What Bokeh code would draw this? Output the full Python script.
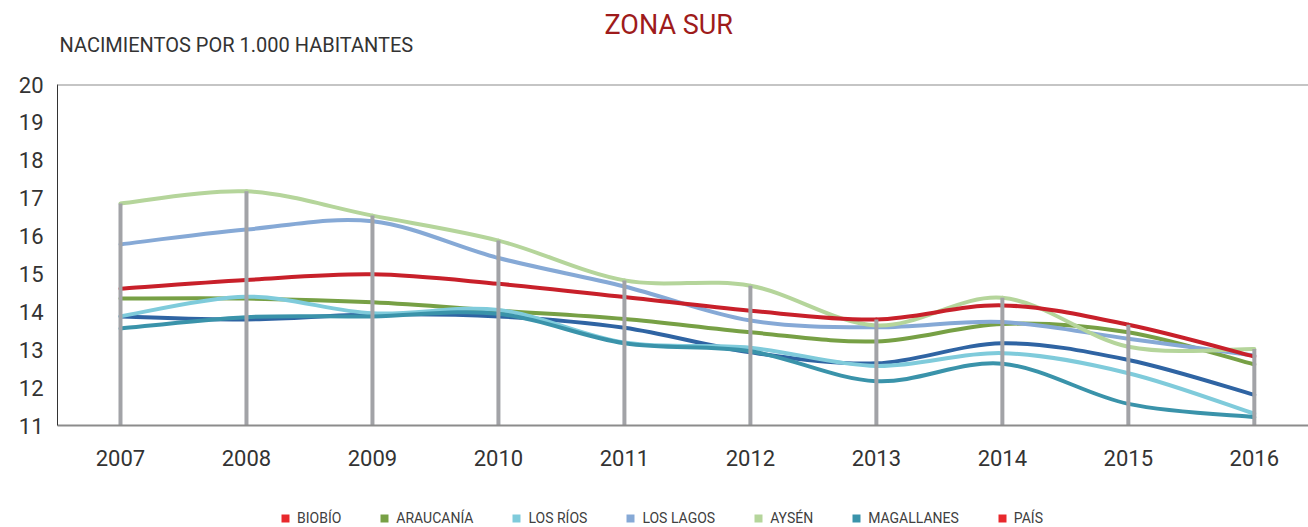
import numpy as np
from bokeh.plotting import figure
from bokeh.layouts import column
from bokeh.models import Range1d, Span, Legend, LegendItem, FixedTicker
from bokeh.core.properties import value
from bokeh.embed import file_html
from bokeh.resources import INLINE

# ---- data ----
years = [2007, 2008, 2009, 2010, 2011, 2012, 2013, 2014, 2015, 2016]
biobio = [13.88, 13.80, 13.93, 13.88, 13.58, 12.93, 12.64, 13.17, 12.73, 11.81]
araucania = [14.35, 14.35, 14.25, 14.03, 13.81, 13.46, 13.22, 13.68, 13.46, 12.61]
los_rios = [13.88, 14.40, 13.96, 14.05, 13.19, 13.05, 12.57, 12.91, 12.38, 11.31]
los_lagos = [15.78, 16.17, 16.39, 15.42, 14.67, 13.77, 13.59, 13.73, 13.29, 12.85]
aysen = [16.86, 17.18, 16.54, 15.88, 14.83, 14.69, 13.64, 14.37, 13.08, 13.02]
magallanes = [13.56, 13.86, 13.88, 13.95, 13.17, 12.96, 12.17, 12.63, 11.57, 11.22]
pais = [14.61, 14.84, 14.99, 14.74, 14.39, 14.03, 13.80, 14.17, 13.66, 12.82]

y_ticks = [11, 12, 13, 14, 15, 16, 17, 18, 19, 20]
title_text = "ZONA SUR"
subtitle_text = "NACIMIENTOS POR 1.000 HABITANTES"

series = [
    ("BIOBÍO", biobio, "#2F64A3", "#E8282C"),
    ("ARAUCANÍA", araucania, "#77A045", "#77A045"),
    ("LOS RÍOS", los_rios, "#7FCBDB", "#7FCBDB"),
    ("LOS LAGOS", los_lagos, "#86A9D6", "#86A9D6"),
    ("AYSÉN", aysen, "#B5D59B", "#B5D59B"),
    ("MAGALLANES", magallanes, "#3A93AA", "#3A93AA"),
    ("PAÍS", pais, "#C8202A", "#E8282C"),
]

FONT = "Roboto"
W = 1308
LEFT = 57


def bare_figure(height, yr):
    f = figure(width=W, height=height, output_backend="svg", toolbar_location=None,
               title=None, x_range=Range1d(LEFT, W), y_range=yr,
               x_axis_type=None, y_axis_type=None,
               min_border_left=LEFT, min_border_right=0, min_border_top=0,
               min_border_bottom=0)
    f.outline_line_color = None
    f.xgrid.visible = False
    f.ygrid.visible = False
    return f


# ---- header (title + subtitle), y measured in pixels from the top ----
head = bare_figure(64, Range1d(64, 0))
head.text(x=[604], y=[24.5], text=[title_text], text_font=value(FONT),
          text_font_size="27px", text_color="#9E1B1B",
          text_baseline="alphabetic", text_align="left")
head.text(x=[59], y=[44.5], text=[subtitle_text], text_font=value(FONT),
          text_font_size="20px", text_color="#333333",
          text_baseline="alphabetic", text_align="left")

# ---- main chart ----
p = figure(width=W, height=433, output_backend="svg", toolbar_location=None,
           title=None, x_range=Range1d(2006.5, 2016.43), y_range=Range1d(11, 20),
           min_border_left=LEFT, min_border_right=0, min_border_top=20,
           min_border_bottom=72)
p.outline_line_color = None
p.xgrid.visible = False
p.ygrid.visible = False


def smooth_segments(xs, ys):
    x = np.asarray(xs, dtype=float)
    y = np.asarray(ys, dtype=float)
    xp = np.concatenate([[x[0]], x, [x[-1]]])
    yp = np.concatenate([[y[0]], y, [y[-1]]])
    n = len(x)
    seg = dict(x0=[], y0=[], x1=[], y1=[], cx0=[], cy0=[], cx1=[], cy1=[])
    for i in range(n - 1):
        p0x, p0y = xp[i], yp[i]
        p1x, p1y = xp[i + 1], yp[i + 1]
        p2x, p2y = xp[i + 2], yp[i + 2]
        p3x, p3y = xp[i + 3], yp[i + 3]
        seg["x0"].append(p1x); seg["y0"].append(p1y)
        seg["x1"].append(p2x); seg["y1"].append(p2y)
        seg["cx0"].append(p1x + (p2x - p0x) / 6.0)
        seg["cy0"].append(p1y + (p2y - p0y) / 6.0)
        seg["cx1"].append(p2x - (p3x - p1x) / 6.0)
        seg["cy1"].append(p2y - (p3y - p1y) / 6.0)
    return seg


for name, vals, lcol, legcol in series:
    s = smooth_segments(years, vals)
    p.bezier(source=s, x0="x0", y0="y0", x1="x1", y1="y1",
             cx0="cx0", cy0="cy0", cx1="cx1", cy1="cy1",
             line_color=lcol, line_width=4, line_cap="round")

# drop lines from axis to highest series value
tops = np.max(np.array([s[1] for s in series]), axis=0)
p.segment(x0=years, y0=[y_ticks[0]] * len(years), x1=years, y1=tops,
          line_color="#A2A3A7", line_width=4)

p.add_layout(Span(location=y_ticks[-1], dimension="width",
                  line_color="#8C8C8C", line_width=2))

p.xaxis.ticker = FixedTicker(ticks=years)
p.xaxis.major_tick_line_color = None
p.xaxis.minor_tick_line_color = None
p.xaxis.axis_line_color = "#8C8C8C"
p.xaxis.axis_line_width = 2
p.xaxis.major_label_text_font = FONT
p.xaxis.major_label_text_font_size = "22px"
p.xaxis.major_label_text_color = "#333333"
p.xaxis.major_label_standoff = 18

p.yaxis.ticker = FixedTicker(ticks=y_ticks)
p.yaxis.major_tick_line_color = None
p.yaxis.minor_tick_line_color = None
p.yaxis.axis_line_color = "#333333"
p.yaxis.axis_line_width = 1
p.yaxis.major_label_text_font = FONT
p.yaxis.major_label_text_font_size = "22px"
p.yaxis.major_label_text_color = "#333333"
p.yaxis.major_label_standoff = 8

# ---- legend strip ----
leg = bare_figure(30, Range1d(0, 30))
items = []
for name, vals, lcol, legcol in series:
    dummy = leg.quad(left=[np.nan], right=[np.nan], top=[np.nan],
                     bottom=[np.nan], fill_color=legcol, line_color=None)
    items.append(LegendItem(label=name, renderers=[dummy]))
legend = Legend(items=items, orientation="horizontal", location=(223, 1),
                glyph_width=10, glyph_height=10, label_standoff=7, spacing=38,
                padding=0, margin=0, border_line_color=None,
                background_fill_alpha=0, label_height=16,
                label_text_font=FONT, label_text_font_size="14px",
                label_text_color="#404040")
leg.add_layout(legend)

layout = column(head, p, leg, spacing=0)
open("out.html", "w").write(file_html(layout, INLINE))
